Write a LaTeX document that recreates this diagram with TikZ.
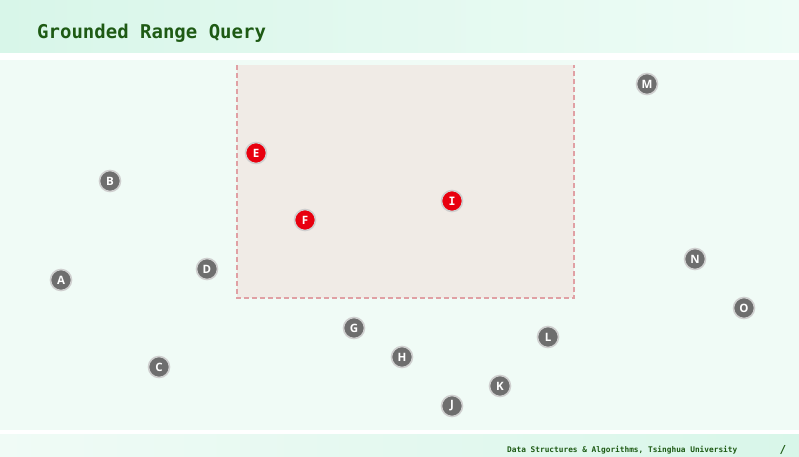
\documentclass[tikz,border=0pt]{standalone}
\usepackage{fontspec}
\setsansfont{Open Sans}
\newfontfamily\monofont{DejaVu Sans Mono}
\definecolor{bodybg}{HTML}{F0FBF6}
\definecolor{barL}{HTML}{D8F6E9}
\definecolor{barR}{HTML}{EEFCF6}
\definecolor{ttl}{HTML}{1E5A14}
\definecolor{rangefill}{HTML}{F0EBE6}
\definecolor{rangeedge}{HTML}{E0A0A4}
\definecolor{ptgray}{HTML}{6E6E6E}
\definecolor{ptring}{HTML}{CFCFCF}
\definecolor{ptred}{HTML}{E8000F}
\tikzset{
  pt/.style={circle,minimum size=21pt,inner sep=0pt,fill=ptgray,draw=ptring,line width=1.6pt,text=white,font=\sffamily\bfseries\fontsize{11.5}{11.5}\selectfont},
  hit/.style={pt,fill=ptred},
}
\begin{document}
\begin{tikzpicture}[x=1pt,y=-1pt]
\useasboundingbox (0,0) rectangle (799,456);
\fill[bodybg] (0,0) rectangle (799,456);
\shade[left color=barL,right color=barR] (0,0) rectangle (799,53);
\fill[white] (0,53) rectangle (799,60);
\fill[white] (0,430) rectangle (799,434);
\shade[left color=bodybg,right color=barL] (0,434) rectangle (799,456);
\node[anchor=base west,inner sep=0pt,text=ttl,font=\monofont\bfseries\fontsize{19}{19}\selectfont] (title) at (37,38) {Grounded Range Query};
\node[anchor=west,inner sep=0pt,text=ttl,font=\monofont\bfseries\fontsize{7.8}{8}\selectfont] (foot) at (507,450) {Data Structures \& Algorithms, Tsinghua University};
\node[anchor=center,inner sep=0pt,text=ttl,font=\monofont\bfseries\fontsize{11}{11}\selectfont] (pg) at (783,450) {/};
\fill[rangefill] (237,65) rectangle (574,298);
\draw[rangeedge,line width=1.5pt,dash pattern=on 5pt off 3pt] (237,65) -- (237,298) -- (574,298) -- (574,65);
\node[pt] (A) at (61,280) {A};
\node[pt] (B) at (110,181) {B};
\node[pt] (C) at (159,367) {C};
\node[pt] (D) at (207,269) {D};
\node[hit] (E) at (256,153) {E};
\node[hit] (F) at (305,220) {F};
\node[pt] (G) at (354,328) {G};
\node[pt] (H) at (402,357) {H};
\node[hit,font=\monofont\bfseries\fontsize{11.5}{11.5}\selectfont] (I) at (452,201) {I};
\node[pt] (J) at (452,406) {J};
\node[pt] (K) at (500,386) {K};
\node[pt] (L) at (548,337) {L};
\node[pt] (M) at (647,84) {M};
\node[pt] (N) at (695,259) {N};
\node[pt] (O) at (744,308) {O};
\end{tikzpicture}
\end{document}
